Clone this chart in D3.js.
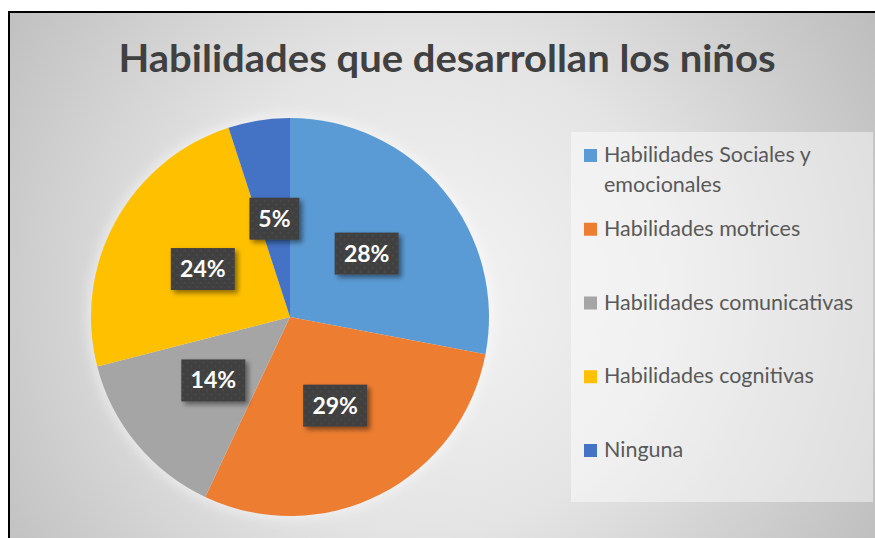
<!DOCTYPE html>
<html>
<head>
<meta charset="utf-8">
<script src="https://cdn.jsdelivr.net/npm/d3@7"></script>
<style>
  body { margin: 0; background: #fff; }
  svg { display: block; }
</style>
</head>
<body>
<div id="chart"></div>
<script>
// data
let categories = ['Habilidades Sociales y emocionales', 'Habilidades motrices',
  'Habilidades comunicativas', 'Habilidades cognitivas', 'Ninguna'];
let legend_lines = [['Habilidades Sociales y', 'emocionales'], ['Habilidades motrices'],
  ['Habilidades comunicativas'], ['Habilidades cognitivas'], ['Ninguna']];
let values = [28, 29, 14, 24, 5];
let colors = ['#5B9BD5', '#ED7D31', '#A5A5A5', '#FFC000', '#4472C4'];
let title = 'Habilidades que desarrollan los niños';

let svg_width = 875;
let svg_height = 538;
let font = 'Lato, "Open Sans", sans-serif';

let svg = d3.select('#chart').append('svg')
  .attr('width', svg_width)
  .attr('height', svg_height);

let defs = svg.append('defs');

// radial background
let bg = defs.append('radialGradient')
  .attr('id', 'bg')
  .attr('gradientUnits', 'userSpaceOnUse')
  .attr('cx', 430).attr('cy', 290).attr('r', 540);
bg.append('stop').attr('offset', '0').attr('stop-color', '#f4f4f4');
bg.append('stop').attr('offset', '0.45').attr('stop-color', '#e4e4e4');
bg.append('stop').attr('offset', '1').attr('stop-color', '#bbbbbb');

// dotted fill for the data labels
let pat = defs.append('pattern')
  .attr('id', 'dots')
  .attr('patternUnits', 'userSpaceOnUse')
  .attr('width', 8).attr('height', 8);
pat.append('rect').attr('width', 8).attr('height', 8).attr('fill', '#404040');
pat.append('circle').attr('cx', 2).attr('cy', 2).attr('r', 1).attr('fill', '#4d4d4d');
pat.append('circle').attr('cx', 6).attr('cy', 6).attr('r', 1).attr('fill', '#4d4d4d');

let shadow = defs.append('filter').attr('id', 'shadow')
  .attr('x', '-30%').attr('y', '-30%').attr('width', '160%').attr('height', '160%');
shadow.append('feDropShadow')
  .attr('dx', 3).attr('dy', 3).attr('stdDeviation', 2.5)
  .attr('flood-color', '#000').attr('flood-opacity', 0.45);

let glow = defs.append('filter').attr('id', 'glow')
  .attr('x', '-20%').attr('y', '-20%').attr('width', '140%').attr('height', '140%');
glow.append('feGaussianBlur').attr('stdDeviation', 6);

// chart area + border
svg.append('rect')
  .attr('x', 9).attr('y', 12)
  .attr('width', 900).attr('height', 600)
  .attr('fill', 'url(#bg)')
  .attr('stroke', '#000')
  .attr('stroke-width', 2);

// title
svg.append('text')
  .attr('x', 447)
  .attr('y', 72)
  .attr('text-anchor', 'middle')
  .attr('font-family', font)
  .attr('font-weight', 'bold')
  .attr('font-size', 38)
  .attr('fill', '#404040')
  .attr('textLength', 657)
  .attr('lengthAdjust', 'spacingAndGlyphs')
  .text(title);

// pie
let cx = 290, cy = 317, radius = 199;
let pie_group = svg.append('g')
  .attr('transform', `translate(${cx}, ${cy})`);

pie_group.append('circle')
  .attr('r', radius + 4)
  .attr('fill', '#ffffff')
  .attr('opacity', 0.45)
  .attr('filter', 'url(#glow)');

let pie = d3.pie().sort(null).value(d => d);
let arc = d3.arc().innerRadius(0).outerRadius(radius);
let arcs = pie(values);

pie_group.selectAll('path')
  .data(arcs)
  .enter()
  .append('path')
  .attr('d', arc)
  .attr('fill', (d, i) => colors[i]);

// data labels
let total = d3.sum(values);
let labels = pie_group.selectAll('.lbl')
  .data(arcs)
  .enter()
  .append('g')
  .classed('lbl', true)
  .attr('transform', d => `translate(${arc.centroid(d)})`);

labels.each(function(d) {
  let g = d3.select(this);
  let txt = Math.round(d.data / total * 100) + '%';
  let w = txt.length > 2 ? 64 : 50;
  g.append('rect')
    .attr('x', -w / 2).attr('y', -21)
    .attr('width', w).attr('height', 42)
    .attr('fill', 'url(#dots)')
    .attr('filter', 'url(#shadow)');
  g.append('text')
    .attr('text-anchor', 'middle')
    .attr('dy', 8)
    .attr('font-family', font)
    .attr('font-weight', 'bold')
    .attr('font-size', 23)
    .attr('fill', '#ffffff')
    .text(txt);
});

// legend
svg.append('rect')
  .attr('x', 571).attr('y', 132)
  .attr('width', 302).attr('height', 370)
  .attr('fill', '#ffffff')
  .attr('opacity', 0.45);

let legend_y = d3.scalePoint()
  .domain(categories)
  .range([155, 450]);

let legend = svg.selectAll('.legend')
  .data(categories)
  .enter()
  .append('g')
  .classed('legend', true)
  .attr('transform', d => `translate(584, ${legend_y(d)})`);

legend.append('rect')
  .attr('x', 0).attr('y', -6)
  .attr('width', 13).attr('height', 13)
  .attr('fill', (d, i) => colors[i]);

legend.append('text')
  .attr('x', 20)
  .attr('font-family', font)
  .attr('font-size', 21.5)
  .attr('fill', '#595959')
  .selectAll('tspan')
  .data((d, i) => legend_lines[i])
  .enter()
  .append('tspan')
  .attr('x', 20)
  .attr('dy', (d, j) => j === 0 ? 7 : 30)
  .text(d => d);
</script>
</body>
</html>
